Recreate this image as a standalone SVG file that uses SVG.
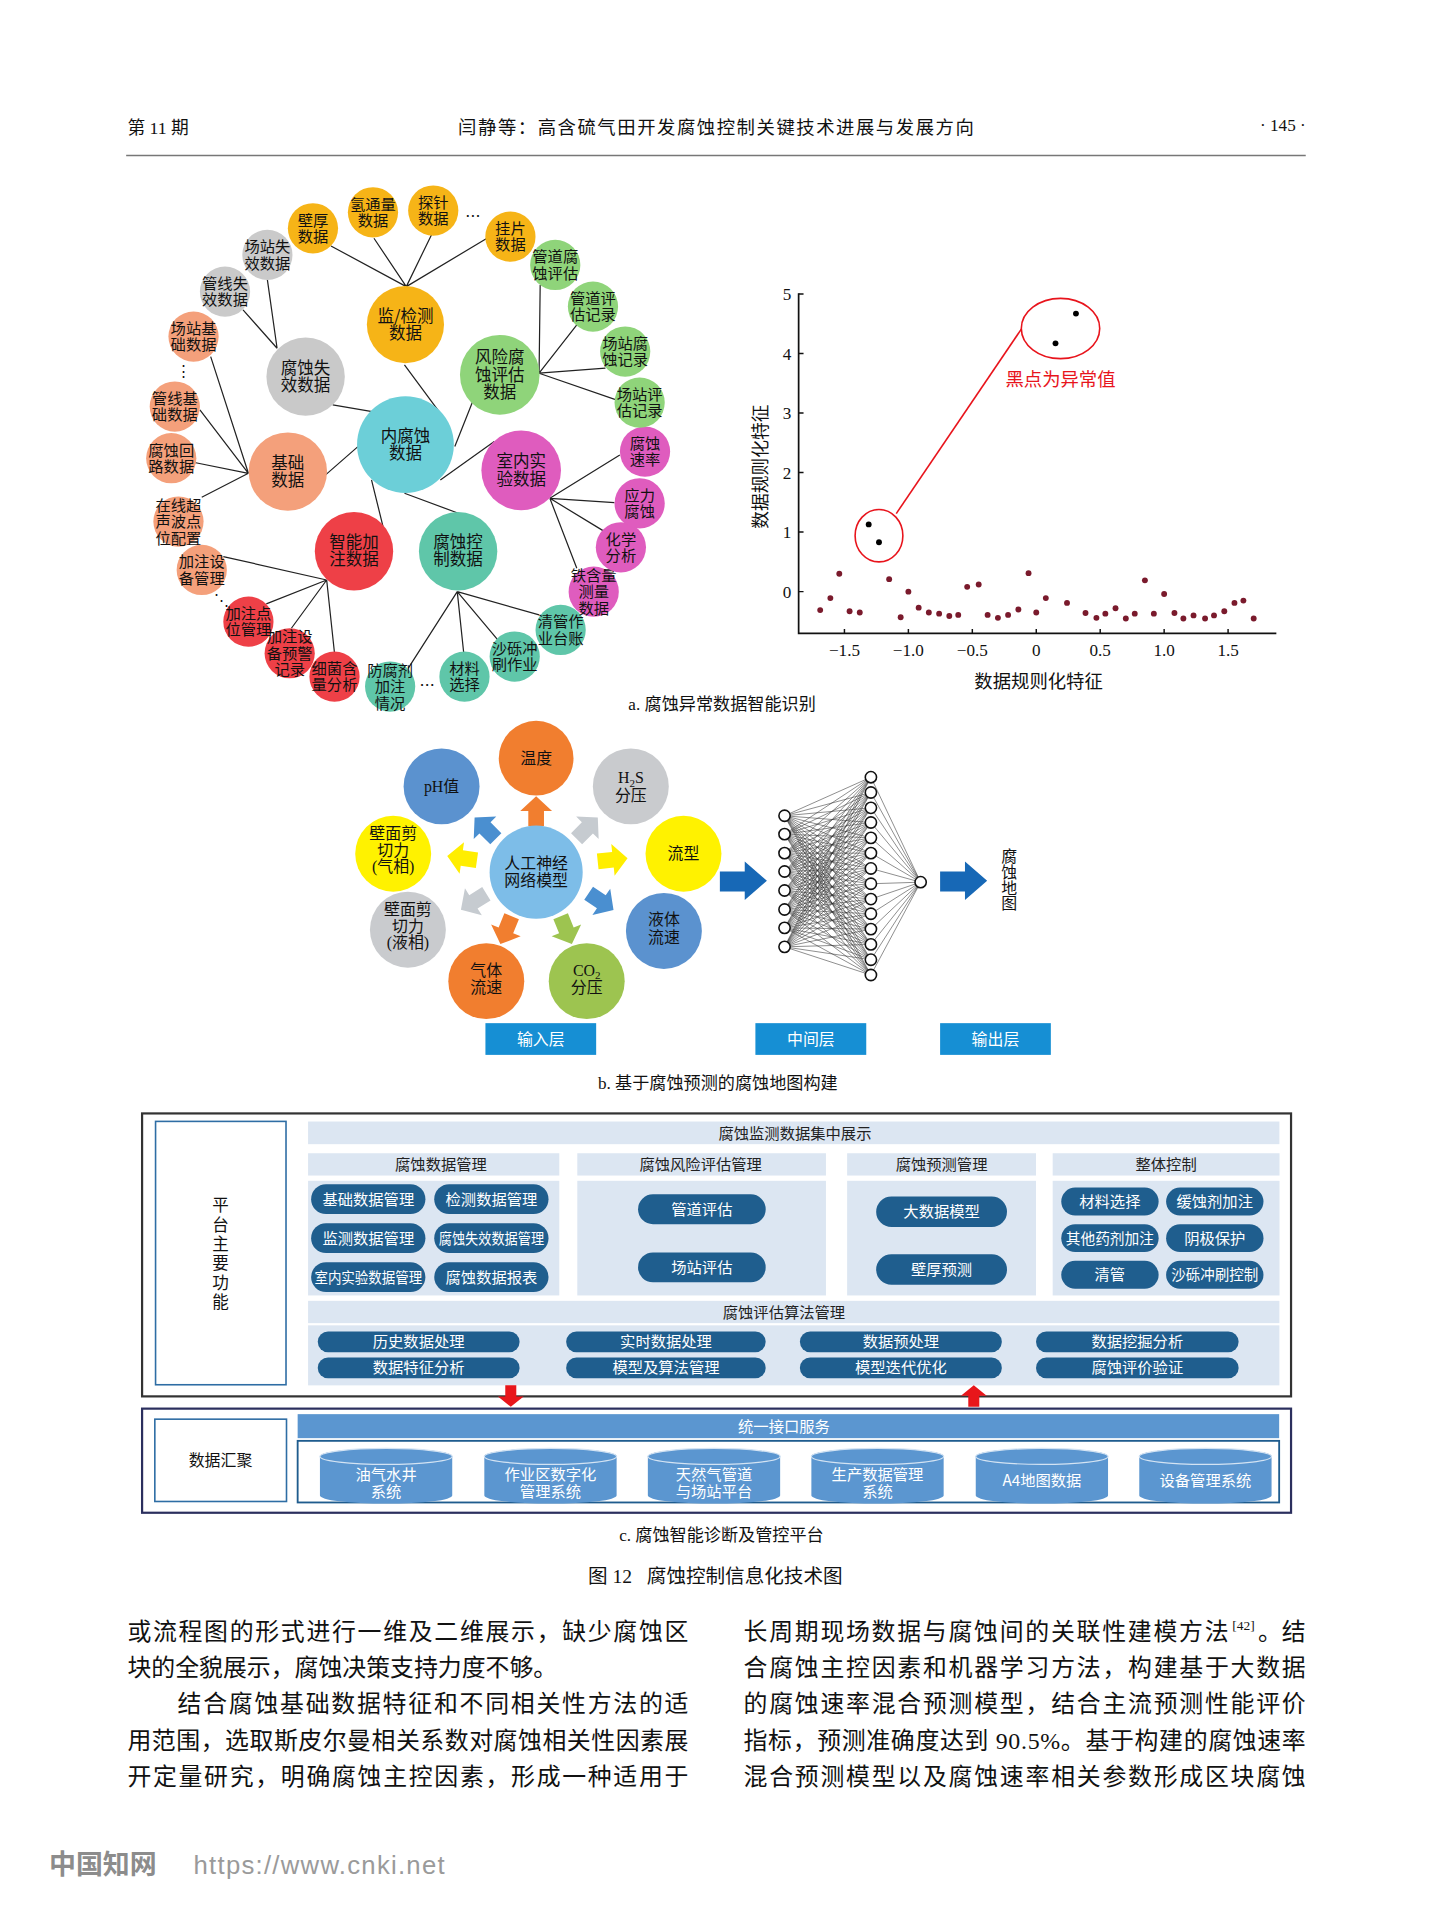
<svg xmlns="http://www.w3.org/2000/svg" xmlns:xlink="http://www.w3.org/1999/xlink" width="1432" height="1920" viewBox="0 0 1432 1920">
<style>
text{font-family:"Liberation Serif","Noto Sans CJK SC",serif;fill:#111}
.cj{font-family:"Noto Sans CJK SC","Noto Sans",sans-serif}
.nt{font-family:"Noto Sans CJK SC",sans-serif;font-size:12.5px;text-anchor:middle;fill:#111}
.lg{font-size:13.5px}
.ln{stroke:#222;stroke-width:1;fill:none}
.dot{fill:#7a1a2c}
.bt{font-family:"Liberation Serif","Noto Sans CJK SC",serif;font-size:13px;text-anchor:middle;fill:#111}
.pill{fill:#1f5e8e}
.pt{font-family:"Noto Sans CJK SC",sans-serif;font-size:12.5px;text-anchor:middle;fill:#fff}
.hd{font-family:"Noto Sans CJK SC",sans-serif;font-size:12.5px;text-anchor:middle;fill:#222}
.band{fill:#dce6f2}
.bd{font-size:19.5px}
.ct{font-size:14px;text-anchor:middle}
</style>
<defs>
<path id="barrow" d="M-12 -6.4H0.5V-13L12.5 0 0.5 13V6.4H-12Z"/>
<g id="cyl"><path d="M-54 0V32A54 6.5 0 0 0 54 32V0A54 6.5 0 0 0 -54 0Z" fill="#5b96d0"/><ellipse rx="54" ry="6.5" fill="#5b96d0" stroke="#d3e3f3" stroke-width="1"/></g>
</defs>
<rect width="1432" height="1920" fill="#fff"/>
<g transform="scale(1.2249)">
<!-- header -->
<g id="header">
<text x="104" y="109" font-size="14.5">第 11 期</text>
<text x="584.5" y="109" font-size="15" text-anchor="middle" textLength="421" lengthAdjust="spacing">闫静等：高含硫气田开发腐蚀控制关键技术进展与发展方向</text>
<text x="1066" y="107" font-size="14" text-anchor="end">· 145 ·</text>
<line x1="103" y1="127" x2="1066" y2="127" stroke="#777" stroke-width="1.3"/>
</g>

<!-- ===== Part a: bubble chart ===== -->
<g id="a-connectors" class="ln">
<path d="M331.7 234L270.2 200.8M331.7 234L305.3 194.5M331.7 234L352.2 191.8M331.7 234L397.6 194.5"/>
<path d="M226.2 284.3L218.3 228.5M226.2 284.3L198.4 253"/>
<path d="M440.1 304.7L441 232.6M440.1 304.7L470.9 265.3M440.1 304.7L494.3 300.6M440.1 304.7L503.1 326.5"/>
<path d="M202.8 386.4L172 291.1M202.8 386.4L163.2 334.7M202.8 386.4L158.8 377.6M202.8 386.4L164.7 406"/>
<path d="M448.9 406.8L506 371.4M448.9 406.8L501.6 410.3M448.9 406.8L492.3 433.2M448.9 406.8L470.9 463.9"/>
<path d="M266.7 473.5L182.3 454.4M266.7 473.5L217.4 493M266.7 473.5L237.9 512.9M266.7 473.5L273.1 533.3"/>
<path d="M373.3 483L333.2 545.6M373.3 483L378.6 533.3M373.3 483L406.4 522.4M373.3 483L440.1 502"/>
<path d="M330.2 297.9L359.5 337.4M271.6 330.6L303.9 336M385.9 327.8L371.3 364.6M292.2 364.6L265.8 387.7M359.5 391.8L403.5 360.5M303.3 391.8L312.7 429.9M330.2 402.7L374.2 419"/>
</g>
<g id="a-nodes">
<g id="n-jiance"><circle cx="331" cy="265" r="31.5" fill="#f6b417"/><text class="nt lg" x="331" y="262.6">监/检测<tspan x="331" dy="14">数据</tspan></text></g>
<g id="n-fengxian"><circle cx="408" cy="306" r="32.5" fill="#8fd47a"/><text class="nt lg" x="408" y="296.7">风险腐<tspan x="408" dy="14">蚀评估</tspan><tspan x="408" dy="14">数据</tspan></text></g>
<g id="n-shixiao"><circle cx="249.5" cy="307.5" r="32" fill="#c9c9c9"/><text class="nt lg" x="249.5" y="305.1">腐蚀失<tspan x="249.5" dy="14">效数据</tspan></text></g>
<g id="n-jichu"><circle cx="235" cy="385" r="32" fill="#f4a07b"/><text class="nt lg" x="235" y="382.6">基础<tspan x="235" dy="14">数据</tspan></text></g>
<g id="n-shinei"><circle cx="425.5" cy="384" r="32.5" fill="#df5cbe"/><text class="nt lg" x="425.5" y="381.6">室内实<tspan x="425.5" dy="14">验数据</tspan></text></g>
<g id="n-zhineng"><circle cx="289" cy="450" r="32" fill="#ee4047"/><text class="nt lg" x="289" y="447.6">智能加<tspan x="289" dy="14">注数据</tspan></text></g>
<g id="n-kongzhi"><circle cx="374" cy="450" r="32" fill="#5fc6a9"/><text class="nt lg" x="374" y="447.6">腐蚀控<tspan x="374" dy="14">制数据</tspan></text></g>
<g id="n-neifushi"><circle cx="331" cy="363" r="39.5" fill="#6ccfd8"/><text class="nt lg" x="331" y="360.6">内腐蚀<tspan x="331" dy="14">数据</tspan></text></g>

<g id="n-bihou"><circle cx="255.5" cy="186.4" r="20.5" fill="#f6b417"/><text class="nt" x="255.5" y="184.2">壁厚<tspan x="255.5" dy="13.5">数据</tspan></text></g>
<g id="n-qingtong"><circle cx="304.5" cy="173.3" r="20.5" fill="#f6b417"/><text class="nt" x="304.5" y="171.1">氢通量<tspan x="304.5" dy="13.5">数据</tspan></text></g>
<g id="n-tanzhen"><circle cx="353.7" cy="171.9" r="20.5" fill="#f6b417"/><text class="nt" x="353.7" y="169.7">探针<tspan x="353.7" dy="13.5">数据</tspan></text></g>
<text class="nt" x="386" y="181">…</text>
<g id="n-guapian"><circle cx="416.7" cy="193.2" r="20.5" fill="#f6b417"/><text class="nt" x="416.7" y="191">挂片<tspan x="416.7" dy="13.5">数据</tspan></text></g>
<g id="n-czsx"><circle cx="218.3" cy="208.1" r="20.5" fill="#cacaca"/><text class="nt" x="218.3" y="205.9">场站失<tspan x="218.3" dy="13.5">效数据</tspan></text></g>
<g id="n-gxsx"><circle cx="183.7" cy="238.1" r="20.5" fill="#cacaca"/><text class="nt" x="183.7" y="235.9">管线失<tspan x="183.7" dy="13.5">效数据</tspan></text></g>
<g id="n-czjc"><circle cx="158" cy="274.8" r="20.5" fill="#f4a07b"/><text class="nt" x="158" y="272.6">场站基<tspan x="158" dy="13.5">础数据</tspan></text></g>
<text x="150" y="307" font-family="DejaVu Sans" font-size="12" text-anchor="middle">⋮</text>
<g id="n-gxjc"><circle cx="142.7" cy="331.9" r="20.5" fill="#f4a07b"/><text class="nt" x="142.7" y="329.7">管线基<tspan x="142.7" dy="13.5">础数据</tspan></text></g>
<g id="n-fshl"><circle cx="139.8" cy="374.1" r="20.5" fill="#f4a07b"/><text class="nt" x="139.8" y="371.9">腐蚀回<tspan x="139.8" dy="13.5">路数据</tspan></text></g>
<g id="n-zxcs"><circle cx="145.7" cy="425.8" r="20.5" fill="#f4a07b"/><text class="nt" x="145.7" y="416.8">在线超<tspan x="145.7" dy="13.5">声波点</tspan><tspan x="145.7" dy="13.5">位配置</tspan></text></g>
<g id="n-jzsb"><circle cx="164.7" cy="465.3" r="20.5" fill="#f4a07b"/><text class="nt" x="164.7" y="463.1">加注设<tspan x="164.7" dy="13.5">备管理</tspan></text></g>
<text x="181" y="494" font-family="DejaVu Sans" font-size="12" text-anchor="middle">⋱</text>
<g id="n-jzdw"><circle cx="202.8" cy="507.5" r="20.5" fill="#ee4047"/><text class="nt" x="202.8" y="505.3">加注点<tspan x="202.8" dy="13.5">位管理</tspan></text></g>
<g id="n-jzyj"><circle cx="236.5" cy="533.3" r="20.5" fill="#ee4047"/><text class="nt" x="236.5" y="524.3">加注设<tspan x="236.5" dy="13.5">备预警</tspan><tspan x="236.5" dy="13.5">记录</tspan></text></g>
<g id="n-xijun"><circle cx="273.1" cy="552.4" r="20.5" fill="#ee4047"/><text class="nt" x="273.1" y="550.2">细菌含<tspan x="273.1" dy="13.5">量分析</tspan></text></g>
<g id="n-ffj"><circle cx="318.5" cy="560.5" r="20.5" fill="#5fc6a9"/><text class="nt" x="318.5" y="551.5">防腐剂<tspan x="318.5" dy="13.5">加注</tspan><tspan x="318.5" dy="13.5">情况</tspan></text></g>
<text class="nt" x="348.7" y="564">…</text>
<g id="n-cailiao"><circle cx="379.2" cy="552.4" r="20.5" fill="#5fc6a9"/><text class="nt" x="379.2" y="550.2">材料<tspan x="379.2" dy="13.5">选择</tspan></text></g>
<g id="n-shali"><circle cx="420.2" cy="536" r="20.5" fill="#5fc6a9"/><text class="nt" x="420.2" y="533.8">沙砾冲<tspan x="420.2" dy="13.5">刷作业</tspan></text></g>
<g id="n-qingguan"><circle cx="457.7" cy="514.3" r="20.5" fill="#5fc6a9"/><text class="nt" x="457.7" y="512.1">清管作<tspan x="457.7" dy="13.5">业台账</tspan></text></g>
<g id="n-tiehl"><circle cx="484.7" cy="483" r="20.5" fill="#df5cbe"/><text class="nt" x="484.7" y="474">铁含量<tspan x="484.7" dy="13.5">测量</tspan><tspan x="484.7" dy="13.5">数据</tspan></text></g>
<g id="n-huaxue"><circle cx="506.9" cy="446.8" r="20.5" fill="#df5cbe"/><text class="nt" x="506.9" y="444.6">化学<tspan x="506.9" dy="13.5">分析</tspan></text></g>
<g id="n-yingli"><circle cx="522.2" cy="410.9" r="20.5" fill="#df5cbe"/><text class="nt" x="522.2" y="408.7">应力<tspan x="522.2" dy="13.5">腐蚀</tspan></text></g>
<g id="n-sulv"><circle cx="526.6" cy="368.7" r="20.5" fill="#df5cbe"/><text class="nt" x="526.6" y="366.5">腐蚀<tspan x="526.6" dy="13.5">速率</tspan></text></g>
<g id="n-czpg"><circle cx="522.2" cy="328.7" r="20.5" fill="#8fd47a"/><text class="nt" x="522.2" y="326.5">场站评<tspan x="522.2" dy="13.5">估记录</tspan></text></g>
<g id="n-czfs"><circle cx="510.4" cy="287" r="20.5" fill="#8fd47a"/><text class="nt" x="510.4" y="284.8">场站腐<tspan x="510.4" dy="13.5">蚀记录</tspan></text></g>
<g id="n-gdpg"><circle cx="484.1" cy="250.3" r="20.5" fill="#8fd47a"/><text class="nt" x="484.1" y="248.1">管道评<tspan x="484.1" dy="13.5">估记录</tspan></text></g>
<g id="n-gdfs"><circle cx="453.3" cy="216.3" r="20.5" fill="#8fd47a"/><text class="nt" x="453.3" y="214.1">管道腐<tspan x="453.3" dy="13.5">蚀评估</tspan></text></g>
</g>

<!-- ===== Part a: scatter ===== -->
<g id="scatter">
<path d="M652 239.5V517H1042" fill="none" stroke="#111" stroke-width="1.4"/>
<path d="M652 483h4M652 434.4h4M652 385.8h4M652 337.2h4M652 288.6h4M652 240h4M689.4 517v-3.5M741.6 517v-3.5M793.8 517v-3.5M846 517v-3.5M898.2 517v-3.5M950.4 517v-3.5M1002.6 517v-3.5" stroke="#111" stroke-width="1.2"/>
<g font-size="14" text-anchor="end">
<text x="646" y="488">0</text><text x="646" y="439.4">1</text><text x="646" y="390.8">2</text><text x="646" y="342.2">3</text><text x="646" y="293.6">4</text><text x="646" y="245">5</text>
</g>
<g font-size="14" text-anchor="middle">
<text x="689.4" y="535.5">−1.5</text><text x="741.6" y="535.5">−1.0</text><text x="793.8" y="535.5">−0.5</text><text x="846" y="535.5">0</text><text x="898.2" y="535.5">0.5</text><text x="950.4" y="535.5">1.0</text><text x="1002.6" y="535.5">1.5</text>
</g>
<text class="cj" x="847.9" y="561.5" font-size="15" text-anchor="middle">数据规则化特征</text>
<text class="cj" transform="translate(626,381) rotate(-90)" font-size="14.5" text-anchor="middle">数据规则化特征</text>
<g class="dot">
<circle cx="669.6" cy="498.1" r="2.4"/><circle cx="677.9" cy="488.3" r="2.4"/><circle cx="685.2" cy="468.4" r="2.4"/><circle cx="693.6" cy="499" r="2.4"/><circle cx="701.9" cy="500" r="2.4"/><circle cx="725.9" cy="472.8" r="2.4"/><circle cx="735.3" cy="503.9" r="2.4"/><circle cx="741.6" cy="483" r="2.4"/><circle cx="750" cy="496.1" r="2.4"/><circle cx="758.3" cy="500" r="2.4"/><circle cx="766.7" cy="501" r="2.4"/><circle cx="775" cy="502.9" r="2.4"/><circle cx="782.3" cy="502" r="2.4"/><circle cx="789.6" cy="479.1" r="2.4"/><circle cx="799" cy="477.2" r="2.4"/><circle cx="806.3" cy="502" r="2.4"/><circle cx="814.7" cy="504.4" r="2.4"/><circle cx="823" cy="502" r="2.4"/><circle cx="831.4" cy="497.6" r="2.4"/><circle cx="839.7" cy="467.9" r="2.4"/><circle cx="846" cy="500" r="2.4"/><circle cx="853.8" cy="488.3" r="2.4"/><circle cx="871.1" cy="492.2" r="2.4"/><circle cx="886.2" cy="500.5" r="2.4"/><circle cx="895.1" cy="504.4" r="2.4"/><circle cx="902.4" cy="501" r="2.4"/><circle cx="910.7" cy="496.6" r="2.4"/><circle cx="919.1" cy="504.9" r="2.4"/><circle cx="926.4" cy="501" r="2.4"/><circle cx="934.7" cy="473.8" r="2.4"/><circle cx="942" cy="501" r="2.4"/><circle cx="950.4" cy="484.9" r="2.4"/><circle cx="958.8" cy="500.5" r="2.4"/><circle cx="966.1" cy="504.9" r="2.4"/><circle cx="974.4" cy="502.4" r="2.4"/><circle cx="983.8" cy="504.9" r="2.4"/><circle cx="991.1" cy="502.4" r="2.4"/><circle cx="999.5" cy="499" r="2.4"/><circle cx="1007.8" cy="492.2" r="2.4"/><circle cx="1015.1" cy="490.3" r="2.4"/><circle cx="1023.5" cy="504.9" r="2.4"/>
</g>
<g fill="#000"><circle cx="709.2" cy="428.1" r="2.4"/><circle cx="717.6" cy="442.7" r="2.4"/><circle cx="861.7" cy="280.3" r="2.4"/><circle cx="878.4" cy="256" r="2.4"/></g>
<g fill="none" stroke="#e8141c" stroke-width="1.3">
<ellipse cx="717.6" cy="437.3" rx="19.5" ry="21.4"/>
<ellipse cx="865.8" cy="268.2" rx="32" ry="24.6"/>
<line x1="731.7" y1="419.3" x2="833.8" y2="268.7"/>
</g>
<text class="cj" x="865.8" y="314.8" font-size="15" text-anchor="middle" style="fill:#e8141c">黑点为异常值</text>
</g>
<text class="ct" x="589.5" y="580">a. 腐蚀异常数据智能识别</text>

<!-- ===== Part b ===== -->
<g id="b-arrows">
<use xlink:href="#barrow" fill="#f17e2f" transform="translate(437.7,662.5) rotate(-90)"/>
<use xlink:href="#barrow" fill="#4a8fd0" transform="translate(396.3,676.2) rotate(-135)"/>
<use xlink:href="#barrow" fill="#c6cbd0" transform="translate(479.2,676.2) rotate(-45)"/>
<use xlink:href="#barrow" fill="#ffee00" transform="translate(377.5,700.6) rotate(-172)"/>
<use xlink:href="#barrow" fill="#ffee00" transform="translate(499.9,702) rotate(-6)"/>
<use xlink:href="#barrow" fill="#c6cbd0" transform="translate(386.9,736) rotate(148)"/>
<use xlink:href="#barrow" fill="#4a8fd0" transform="translate(490.5,736) rotate(34)"/>
<use xlink:href="#barrow" fill="#f17e2f" transform="translate(413.2,759.1) rotate(112)"/>
<use xlink:href="#barrow" fill="#9dc450" transform="translate(462.2,759.1) rotate(68)"/>
</g>
<g id="b-nodes">
<g id="b-wendu"><circle cx="437.7" cy="619" r="30.5" fill="#f17e2f"/><text class="bt" x="437.7" y="623.5">温度</text></g>
<g id="b-ph"><circle cx="360.5" cy="642" r="31" fill="#5b92cf"/><text class="bt" x="360.5" y="646.5">pH值</text></g>
<g id="b-h2s"><circle cx="515" cy="642" r="31" fill="#c9cbce"/><text class="bt" x="515" y="639.5">H<tspan font-size="9" dy="3">2</tspan><tspan dy="-3">S</tspan><tspan x="515" dy="14.5">分压</tspan></text></g>
<g id="b-liuxing"><circle cx="558" cy="697" r="31" fill="#fff200"/><text class="bt" x="558" y="701.5">流型</text></g>
<g id="b-yeti"><circle cx="542" cy="760" r="31" fill="#5b92cf"/><text class="bt" x="542" y="755.5">液体<tspan x="542" dy="14.5">流速</tspan></text></g>
<g id="b-co2"><circle cx="479" cy="801" r="31" fill="#9dc450"/><text class="bt" x="479" y="796.5">CO<tspan font-size="9" dy="3">2</tspan><tspan x="479" dy="11.5">分压</tspan></text></g>
<g id="b-qiti"><circle cx="397" cy="801" r="31" fill="#f17e2f"/><text class="bt" x="397" y="796.5">气体<tspan x="397" dy="14.5">流速</tspan></text></g>
<g id="b-yexiang"><circle cx="333" cy="759" r="31" fill="#c9cbce"/><text class="bt" x="333" y="747">壁面剪<tspan x="333" dy="13.5">切力</tspan><tspan x="333" dy="13.5">(液相)</tspan></text></g>
<g id="b-qixiang"><circle cx="321" cy="697" r="31" fill="#fff200"/><text class="bt" x="321" y="685">壁面剪<tspan x="321" dy="13.5">切力</tspan><tspan x="321" dy="13.5">(气相)</tspan></text></g>
<g id="b-ann"><circle cx="437.7" cy="712" r="38" fill="#7dbde8"/><text class="bt" x="437.7" y="709.5">人工神经<tspan x="437.7" dy="14">网络模型</tspan></text></g>
</g>
<g id="b-net">
<path stroke="#333" stroke-width="0.45" fill="none" d="M640.5 666L711 634.5M640.5 666L711 647M640.5 666L711 659.5M640.5 666L711 671.5M640.5 666L711 684M640.5 666L711 696.5M640.5 666L711 709M640.5 666L711 721.5M640.5 666L711 734M640.5 666L711 746M640.5 666L711 758.5M640.5 666L711 771M640.5 666L711 783.5M640.5 666L711 796
M640.5 681L711 634.5M640.5 681L711 647M640.5 681L711 659.5M640.5 681L711 671.5M640.5 681L711 684M640.5 681L711 696.5M640.5 681L711 709M640.5 681L711 721.5M640.5 681L711 734M640.5 681L711 746M640.5 681L711 758.5M640.5 681L711 771M640.5 681L711 783.5M640.5 681L711 796
M640.5 696.5L711 634.5M640.5 696.5L711 647M640.5 696.5L711 659.5M640.5 696.5L711 671.5M640.5 696.5L711 684M640.5 696.5L711 696.5M640.5 696.5L711 709M640.5 696.5L711 721.5M640.5 696.5L711 734M640.5 696.5L711 746M640.5 696.5L711 758.5M640.5 696.5L711 771M640.5 696.5L711 783.5M640.5 696.5L711 796
M640.5 711.5L711 634.5M640.5 711.5L711 647M640.5 711.5L711 659.5M640.5 711.5L711 671.5M640.5 711.5L711 684M640.5 711.5L711 696.5M640.5 711.5L711 709M640.5 711.5L711 721.5M640.5 711.5L711 734M640.5 711.5L711 746M640.5 711.5L711 758.5M640.5 711.5L711 771M640.5 711.5L711 783.5M640.5 711.5L711 796
M640.5 727L711 634.5M640.5 727L711 647M640.5 727L711 659.5M640.5 727L711 671.5M640.5 727L711 684M640.5 727L711 696.5M640.5 727L711 709M640.5 727L711 721.5M640.5 727L711 734M640.5 727L711 746M640.5 727L711 758.5M640.5 727L711 771M640.5 727L711 783.5M640.5 727L711 796
M640.5 742.5L711 634.5M640.5 742.5L711 647M640.5 742.5L711 659.5M640.5 742.5L711 671.5M640.5 742.5L711 684M640.5 742.5L711 696.5M640.5 742.5L711 709M640.5 742.5L711 721.5M640.5 742.5L711 734M640.5 742.5L711 746M640.5 742.5L711 758.5M640.5 742.5L711 771M640.5 742.5L711 783.5M640.5 742.5L711 796
M640.5 757.5L711 634.5M640.5 757.5L711 647M640.5 757.5L711 659.5M640.5 757.5L711 671.5M640.5 757.5L711 684M640.5 757.5L711 696.5M640.5 757.5L711 709M640.5 757.5L711 721.5M640.5 757.5L711 734M640.5 757.5L711 746M640.5 757.5L711 758.5M640.5 757.5L711 771M640.5 757.5L711 783.5M640.5 757.5L711 796
M640.5 773L711 634.5M640.5 773L711 647M640.5 773L711 659.5M640.5 773L711 671.5M640.5 773L711 684M640.5 773L711 696.5M640.5 773L711 709M640.5 773L711 721.5M640.5 773L711 734M640.5 773L711 746M640.5 773L711 758.5M640.5 773L711 771M640.5 773L711 783.5M640.5 773L711 796
M711 634.5L751.6 720.2M711 647L751.6 720.2M711 659.5L751.6 720.2M711 671.5L751.6 720.2M711 684L751.6 720.2M711 696.5L751.6 720.2M711 709L751.6 720.2M711 721.5L751.6 720.2M711 734L751.6 720.2M711 746L751.6 720.2M711 758.5L751.6 720.2M711 771L751.6 720.2M711 783.5L751.6 720.2M711 796L751.6 720.2"/>
<g fill="#fff" stroke="#111" stroke-width="1.3">
<circle cx="640.5" cy="666" r="4.6"/><circle cx="640.5" cy="681" r="4.6"/><circle cx="640.5" cy="696.5" r="4.6"/><circle cx="640.5" cy="711.5" r="4.6"/><circle cx="640.5" cy="727" r="4.6"/><circle cx="640.5" cy="742.5" r="4.6"/><circle cx="640.5" cy="757.5" r="4.6"/><circle cx="640.5" cy="773" r="4.6"/>
<circle cx="711" cy="634.5" r="4.6"/><circle cx="711" cy="647" r="4.6"/><circle cx="711" cy="659.5" r="4.6"/><circle cx="711" cy="671.5" r="4.6"/><circle cx="711" cy="684" r="4.6"/><circle cx="711" cy="696.5" r="4.6"/><circle cx="711" cy="709" r="4.6"/><circle cx="711" cy="721.5" r="4.6"/><circle cx="711" cy="734" r="4.6"/><circle cx="711" cy="746" r="4.6"/><circle cx="711" cy="758.5" r="4.6"/><circle cx="711" cy="771" r="4.6"/><circle cx="711" cy="783.5" r="4.6"/><circle cx="711" cy="796" r="4.6"/>
<circle cx="751.6" cy="720.2" r="4.6"/>
</g>
</g>
<g id="b-bigarrows" fill="#1768b6">
<path d="M587.7 711.5H608V703.4L626.1 719.1 608 734.7V727.9H587.7Z"/>
<path d="M767.5 711.5H787.8V703.4L805.9 719.1 787.8 734.7V727.9H767.5Z"/>
</g>
<text class="bt" x="824" y="703.5">腐<tspan x="824" dy="13">蚀</tspan><tspan x="824" dy="13">地</tspan><tspan x="824" dy="13">图</tspan></text>
<g id="b-layers">
<rect x="396.3" y="835.3" width="90.4" height="25.9" fill="#168fd4"/>
<rect x="616.7" y="835.3" width="90.5" height="25.9" fill="#168fd4"/>
<rect x="767.5" y="835.3" width="90.4" height="25.9" fill="#168fd4"/>
<text class="bt" x="441.5" y="852.8" style="fill:#fff">输入层</text>
<text class="bt" x="662" y="852.8" style="fill:#fff">中间层</text>
<text class="bt" x="812.7" y="852.8" style="fill:#fff">输出层</text>
</g>
<text class="ct" x="586" y="889">b. 基于腐蚀预测的腐蚀地图构建</text>

<!-- ===== Part c ===== -->
<g id="c-platform">
<rect x="116" y="909" width="938" height="231" fill="#fff" stroke="#333" stroke-width="1.8"/>
<rect x="127" y="915.5" width="106.5" height="215" fill="none" stroke="#2e6da4" stroke-width="1.3"/>
<text class="cj" x="180" y="989" font-size="13.5" text-anchor="middle">平<tspan x="180" dy="15.8">台</tspan><tspan x="180" dy="15.8">主</tspan><tspan x="180" dy="15.8">要</tspan><tspan x="180" dy="15.8">功</tspan><tspan x="180" dy="15.8">能</tspan></text>
<rect class="band" x="251.5" y="915.6" width="793" height="18.5"/>
<text class="hd" x="649" y="929.6">腐蚀监测数据集中展示</text>
<rect class="band" x="251.5" y="941.5" width="205.1" height="18.2"/>
<rect class="band" x="471.3" y="941.5" width="203" height="18.2"/>
<rect class="band" x="691.6" y="941.5" width="154.2" height="18.2"/>
<rect class="band" x="859.4" y="941.5" width="185.2" height="18.2"/>
<text class="hd" x="360" y="955.2">腐蚀数据管理</text>
<text class="hd" x="572" y="955.2">腐蚀风险评估管理</text>
<text class="hd" x="768.7" y="955.2">腐蚀预测管理</text>
<text class="hd" x="952" y="955.2">整体控制</text>
<rect class="band" x="251.5" y="964" width="205.1" height="93.6"/>
<rect class="band" x="471.3" y="964" width="203" height="93.6"/>
<rect class="band" x="691.6" y="964" width="154.2" height="93.6"/>
<rect class="band" x="859.4" y="964" width="185.2" height="93.6"/>
<rect class="band" x="251.5" y="1062" width="793" height="18.2"/>
<text class="hd" x="640" y="1075.6">腐蚀评估算法管理</text>
<rect class="band" x="251.5" y="1082" width="793" height="49"/>
<g id="c-pills1">
<rect class="pill" x="254" y="966.8" width="93.3" height="24.4" rx="12.2"/><text class="pt" x="300.7" y="983.5">基础数据管理</text>
<rect class="pill" x="354.5" y="966.8" width="93.3" height="24.4" rx="12.2"/><text class="pt" x="401.2" y="983.5">检测数据管理</text>
<rect class="pill" x="254" y="998.6" width="93.3" height="24.4" rx="12.2"/><text class="pt" x="300.7" y="1015.3">监测数据管理</text>
<rect class="pill" x="354.5" y="998.6" width="93.3" height="24.4" rx="12.2"/><text class="pt" x="401.2" y="1015.3" textLength="86" lengthAdjust="spacingAndGlyphs">腐蚀失效数据管理</text>
<rect class="pill" x="254" y="1030.4" width="93.3" height="24.4" rx="12.2"/><text class="pt" x="300.7" y="1047.1" textLength="88" lengthAdjust="spacingAndGlyphs">室内实验数据管理</text>
<rect class="pill" x="354.5" y="1030.4" width="93.3" height="24.4" rx="12.2"/><text class="pt" x="401.2" y="1047.1">腐蚀数据报表</text>
</g>
<g id="c-pills2">
<rect class="pill" x="520.9" y="975" width="104.2" height="24.4" rx="12.2"/><text class="pt" x="573" y="991.7">管道评估</text>
<rect class="pill" x="520.9" y="1022.5" width="104.2" height="24.4" rx="12.2"/><text class="pt" x="573" y="1039.2">场站评估</text>
</g>
<g id="c-pills3">
<rect class="pill" x="715.3" y="976.8" width="106.8" height="25" rx="12.5"/><text class="pt" x="768.7" y="993.8">大数据模型</text>
<rect class="pill" x="715.3" y="1023.9" width="106.8" height="25" rx="12.5"/><text class="pt" x="768.7" y="1040.9">壁厚预测</text>
</g>
<g id="c-pills4">
<rect class="pill" x="866.4" y="969.5" width="79.5" height="22.8" rx="11.4"/><text class="pt" x="906.1" y="985.4">材料选择</text>
<rect class="pill" x="952" y="969.5" width="79.5" height="22.8" rx="11.4"/><text class="pt" x="991.7" y="985.4">缓蚀剂加注</text>
<rect class="pill" x="866.4" y="999.4" width="79.5" height="22.8" rx="11.4"/><text class="pt" x="906.1" y="1015.3" textLength="72" lengthAdjust="spacingAndGlyphs">其他药剂加注</text>
<rect class="pill" x="952" y="999.4" width="79.5" height="22.8" rx="11.4"/><text class="pt" x="991.7" y="1015.3">阴极保护</text>
<rect class="pill" x="866.4" y="1029.3" width="79.5" height="22.8" rx="11.4"/><text class="pt" x="906.1" y="1045.2">清管</text>
<rect class="pill" x="952" y="1029.3" width="79.5" height="22.8" rx="11.4"/><text class="pt" x="991.7" y="1045.2" textLength="71" lengthAdjust="spacingAndGlyphs">沙砾冲刷控制</text>
</g>
<g id="c-pills5">
<rect class="pill" x="259.4" y="1087" width="164.8" height="16.9" rx="8.45"/><text class="pt" x="341.8" y="1099.8">历史数据处理</text>
<rect class="pill" x="462.2" y="1087" width="162.9" height="16.9" rx="8.45"/><text class="pt" x="543.7" y="1099.8">实时数据处理</text>
<rect class="pill" x="653" y="1087" width="164.9" height="16.9" rx="8.45"/><text class="pt" x="735.5" y="1099.8">数据预处理</text>
<rect class="pill" x="845.8" y="1087" width="165.4" height="16.9" rx="8.45"/><text class="pt" x="928.5" y="1099.8">数据挖掘分析</text>
<rect class="pill" x="259.4" y="1108.3" width="164.8" height="16.9" rx="8.45"/><text class="pt" x="341.8" y="1121.1">数据特征分析</text>
<rect class="pill" x="462.2" y="1108.3" width="162.9" height="16.9" rx="8.45"/><text class="pt" x="543.7" y="1121.1">模型及算法管理</text>
<rect class="pill" x="653" y="1108.3" width="164.9" height="16.9" rx="8.45"/><text class="pt" x="735.5" y="1121.1">模型迭代优化</text>
<rect class="pill" x="845.8" y="1108.3" width="165.4" height="16.9" rx="8.45"/><text class="pt" x="928.5" y="1121.1">腐蚀评价验证</text>
</g>
</g>
<g id="c-redarrows" fill="#e8161b">
<path d="M412.5 1131H421.5V1140H427.5L417 1148.5 406.5 1140H412.5Z"/>
<path d="M790.5 1148.5H799.5V1139.5H805.5L795 1131 784.5 1139.5H790.5Z"/>
</g>
<g id="c-data">
<rect x="116" y="1150" width="938" height="85" fill="#fff" stroke="#2b2f5e" stroke-width="1.8"/>
<rect x="126.4" y="1158.6" width="107.5" height="67.2" fill="none" stroke="#2e6da4" stroke-width="1.3"/>
<text class="cj" x="180" y="1196.5" font-size="13" text-anchor="middle">数据汇聚</text>
<rect x="243" y="1154.5" width="801.3" height="19.6" fill="#5b96d0"/>
<text class="pt" x="640" y="1168.8">统一接口服务</text>
<rect x="243" y="1176.3" width="801.3" height="50.3" fill="#fff" stroke="#1f5c8e" stroke-width="1.5"/>
<use xlink:href="#cyl" x="315.2" y="1189"/>
<use xlink:href="#cyl" x="449.4" y="1189"/>
<use xlink:href="#cyl" x="582.9" y="1189"/>
<use xlink:href="#cyl" x="716.4" y="1189"/>
<use xlink:href="#cyl" x="850.6" y="1189"/>
<use xlink:href="#cyl" x="984.1" y="1189"/>
<text class="pt" x="315.2" y="1208.5">油气水井<tspan x="315.2" dy="13.5">系统</tspan></text>
<text class="pt" x="449.4" y="1208.5">作业区数字化<tspan x="449.4" dy="13.5">管理系统</tspan></text>
<text class="pt" x="582.9" y="1208.5">天然气管道<tspan x="582.9" dy="13.5">与场站平台</tspan></text>
<text class="pt" x="716.4" y="1208.5">生产数据管理<tspan x="716.4" dy="13.5">系统</tspan></text>
<text class="pt" x="850.6" y="1213">A4地图数据</text>
<text class="pt" x="984.1" y="1213">设备管理系统</text>
</g>
<text class="ct" x="589" y="1258">c. 腐蚀智能诊断及管控平台</text>
<text x="584" y="1292" font-size="16" text-anchor="middle" xml:space="preserve">图 12   腐蚀控制信息化技术图</text>

<!-- body text -->
<g id="body" class="bd">
<text x="104" y="1339" textLength="458" lengthAdjust="spacing">或流程图的形式进行一维及二维展示，缺少腐蚀区</text>
<text x="104" y="1368.5">块的全貌展示，腐蚀决策支持力度不够。</text>
<text x="145" y="1398" textLength="417" lengthAdjust="spacing">结合腐蚀基础数据特征和不同相关性方法的适</text>
<text x="104" y="1428" textLength="458" lengthAdjust="spacing">用范围，选取斯皮尔曼相关系数对腐蚀相关性因素展</text>
<text x="104" y="1457.5" textLength="458" lengthAdjust="spacing">开定量研究，明确腐蚀主控因素，形成一种适用于</text>
<text x="607" y="1339" textLength="396" lengthAdjust="spacing">长周期现场数据与腐蚀间的关联性建模方法</text>
<text x="1006" y="1331" font-size="11">[42]</text>
<text x="1066" y="1339" text-anchor="end">。结</text>
<text x="607" y="1368.5" textLength="459" lengthAdjust="spacing">合腐蚀主控因素和机器学习方法，构建基于大数据</text>
<text x="607" y="1398" textLength="459" lengthAdjust="spacing">的腐蚀速率混合预测模型，结合主流预测性能评价</text>
<text x="607" y="1428" textLength="459" lengthAdjust="spacing">指标，预测准确度达到 90.5%。基于构建的腐蚀速率</text>
<text x="607" y="1457.5" textLength="459" lengthAdjust="spacing">混合预测模型以及腐蚀速率相关参数形成区块腐蚀</text>
</g>
<g id="watermark">
<text class="cj" x="40" y="1530" font-size="22" font-weight="bold" style="fill:#8c8c8c">中国知网</text>
<text x="158" y="1530" font-size="21" textLength="205" style="fill:#9a9a9a;font-family:'Liberation Sans',sans-serif">https://www.cnki.net</text>
</g>
</g>
</svg>
